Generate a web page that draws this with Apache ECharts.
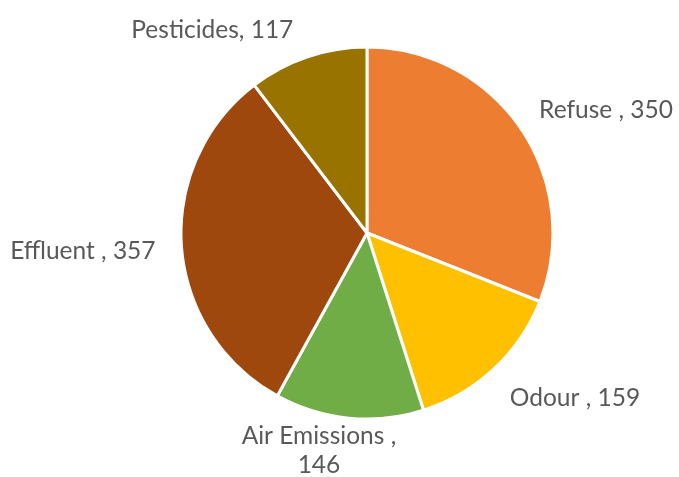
<!DOCTYPE html>
<html>
<head>
<meta charset="utf-8">
<script src="https://cdn.jsdelivr.net/npm/echarts@6/dist/echarts.min.js"></script>
<style>html,body{margin:0;padding:0;background:#fff;}#c{width:679px;height:477px;}</style>
</head>
<body>
<div id="c"></div>
<script>
const categories = ["Refuse ", "Odour ", "Air Emissions ", "Effluent ", "Pesticides"];
const values = [350, 159, 146, 357, 117];
const colors = ["#ED7D31", "#FFC000", "#70AD47", "#9E480E", "#997300"];

// label nudges (layout only)
const labelNudge = [
  { dx: 0, dy: -13 },
  { dx: -1, dy: 22 },
  { dx: -19, dy: 23, align: 'center' },
  { dx: -6, dy: 4 },
  { dx: -1, dy: -17 }
];

const chart = echarts.init(document.getElementById('c'));
chart.setOption({
  animation: false,
  series: [{
    type: 'pie',
    center: [367, 233],
    radius: 186,
    startAngle: 90,
    clockwise: true,
    data: categories.map((n, i) => ({ name: n, value: values[i], itemStyle: { color: colors[i] } })),
    itemStyle: { borderColor: '#fff', borderWidth: 3 },
    label: {
      show: true,
      position: 'outside',
      formatter: p => p.name + ',' + (p.name.length > 12 ? '\n' : ' ') + p.value,
      fontFamily: 'Lato',
      fontSize: 24.5,
      lineHeight: 29,
      color: '#595959',
      overflow: 'none'
    },
    labelLine: { show: false, length: 10, length2: 5 },
    labelLayout: p => labelNudge[p.dataIndex]
  }]
});
</script>
</body>
</html>
